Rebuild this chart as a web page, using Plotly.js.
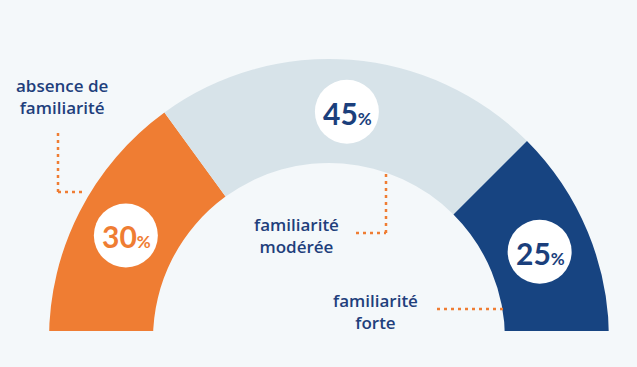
<!DOCTYPE html>
<html>
<head>
<meta charset="utf-8">
<script src="https://cdn.plot.ly/plotly-3.0.1.min.js"></script>
<style>
html,body{margin:0;padding:0;overflow:hidden;background:#F4F8FA;}
#chart{width:637px;height:619px;}
</style>
</head>
<body>
<div id="chart"></div>
<script>
// ---- data ----
var categories = ["absence de familiarité", "familiarité modérée", "familiarité forte"];
var shares = [30, 45, 25];
var labelLines = [["absence de", "familiarité"], ["familiarité", "modérée"], ["familiarité", "forte"]];
var colors = ["#EF7D33", "#D7E3E9", "#174481"];
var numberColors = ["#EF7D33", "#1B3F7C", "#1B3F7C"];

// ---- geometry (pixels) ----
var W = 637, H = 619;
var CX = 329, CY = 339, R = 280, RIN = 176, CUT = 331;
var BG = "#F4F8FA", TEXT = "#1F3F7C", DOT = "#EF7D33";
function px(x){ return x / W; }
function py(y){ return (H - y) / H; }

var total = shares.reduce(function(a,b){return a+b;}, 0);

var pie = {
  type: "pie",
  values: shares.concat([total]),
  labels: categories.concat(["_hidden"]),
  marker: {colors: colors.concat(["rgba(0,0,0,0)"]), line: {width: 0}},
  hole: RIN / R,
  sort: false,
  direction: "clockwise",
  rotation: -90,
  textinfo: "none",
  hoverinfo: "skip",
  domain: {x: [px(CX - R), px(CX + R)], y: [py(CY + R), py(CY - R)]}
};

var shapes = [
  {type: "rect", xref: "paper", yref: "paper", x0: 0, x1: 1, y0: 0, y1: py(CUT),
   fillcolor: BG, line: {width: 0}, layer: "above"}
];
var annotations = [];

// white circles with percentages at each slice middle
var cum = 0, RM = (R + RIN) / 2, RC = 32;
shares.forEach(function(v, i){
  var th = Math.PI * (cum + v / 2) / total;
  cum += v;
  var x = CX - RM * Math.cos(th), y = CY - RM * Math.sin(th);
  shapes.push({type: "circle", xref: "paper", yref: "paper",
    x0: px(x - RC), x1: px(x + RC), y0: py(y + RC), y1: py(y - RC),
    fillcolor: "#FFFFFF", line: {width: 0}, layer: "above"});
  annotations.push({xref: "paper", yref: "paper", x: px(x + 1), y: py(y + 1),
    xanchor: "center", yanchor: "middle", showarrow: false,
    text: v + "<span style='font-size:17px'>%</span>",
    font: {family: "Lato, 'Open Sans', sans-serif", size: 30, weight: 700, color: numberColors[i]}});
});

// category labels
var labelPos = [[62, 97], [296, 235], [375, 311]];
labelLines.forEach(function(lines, i){
  annotations.push({xref: "paper", yref: "paper",
    x: px(labelPos[i][0]), y: py(labelPos[i][1]),
    xanchor: "center", yanchor: "middle", showarrow: false,
    text: lines.join("<br>"), align: "center",
    font: {family: "'Open Sans', sans-serif", size: 17, weight: 600, color: TEXT}});
});

// dotted leader lines
function dotted(x0, y0, x1, y1){
  shapes.push({type: "line", xref: "paper", yref: "paper",
    x0: px(x0), y0: py(y0), x1: px(x1), y1: py(y1),
    line: {color: DOT, width: 2.5, dash: "3px,4px"}, layer: "above"});
}
dotted(58, 133, 58, 192);
dotted(58, 192, 84, 192);
dotted(356, 233, 386, 233);
dotted(386, 233, 386, 172);
dotted(437, 309, 503, 309);

var layout = {
  width: W, height: H,
  margin: {l: 0, r: 0, t: 0, b: 0},
  paper_bgcolor: BG, plot_bgcolor: BG,
  showlegend: false,
  shapes: shapes,
  annotations: annotations
};

Plotly.newPlot("chart", [pie], layout, {displayModeBar: false, staticPlot: true});
</script>
</body>
</html>
